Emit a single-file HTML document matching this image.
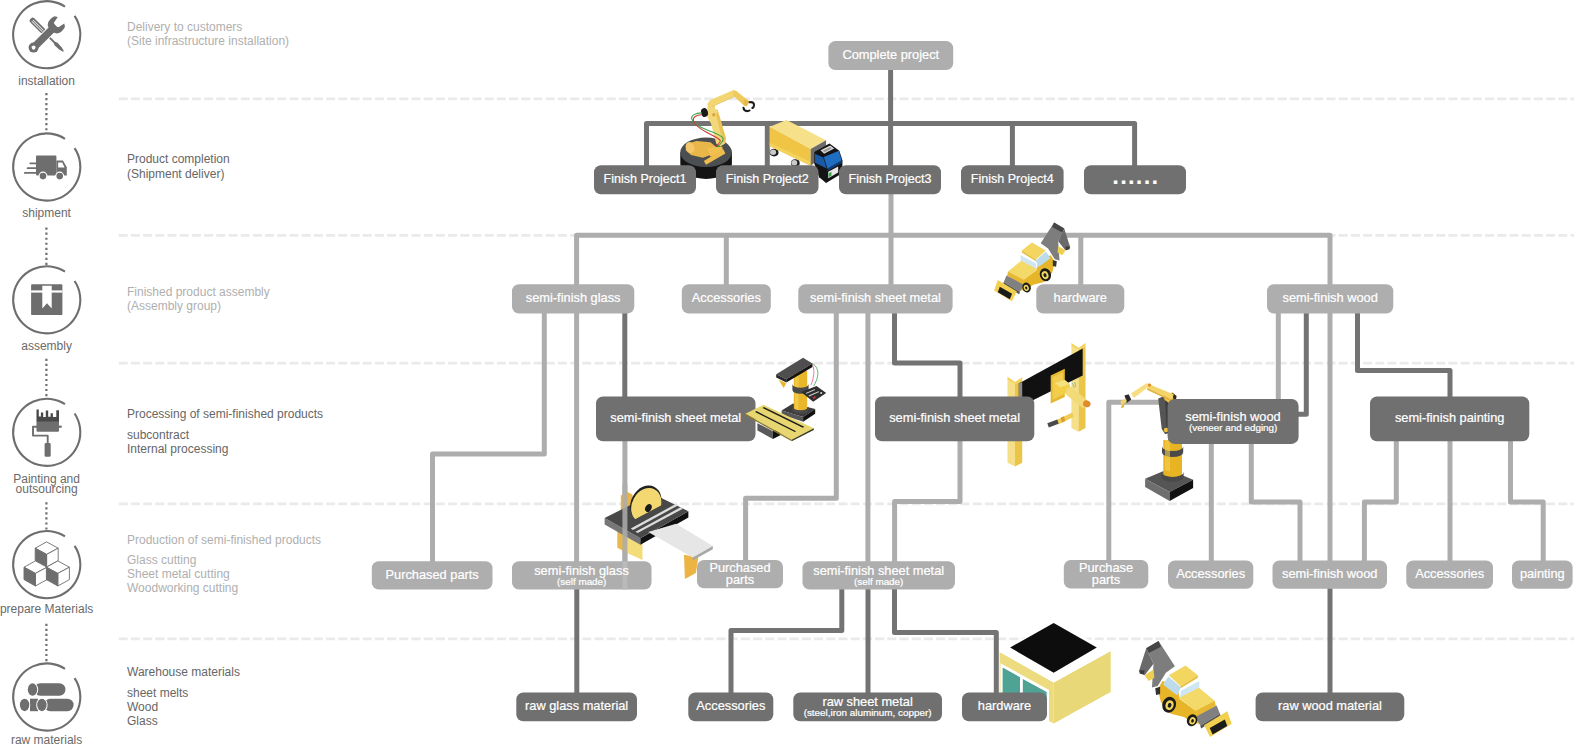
<!DOCTYPE html>
<html lang="en"><head><meta charset="utf-8"><title>Production flow</title>
<style>html,body{margin:0;padding:0;background:#fff}body{width:1574px;height:745px;overflow:hidden;position:relative}svg{display:block;position:absolute;left:0;top:0}text{font-family:"Liberation Sans", Arial, sans-serif}.w{fill:#fff;stroke:#fff;stroke-width:.22px}.m{font-size:12.8px}.s{font-size:9.9px}.lab{font-size:12px;fill:#6a6a6a}.tl{font-size:12px;fill:#afafaf}.td{font-size:12px;fill:#666}</style></head><body>
<svg width="1574" height="745" viewBox="0 0 1574 745">
<g stroke="#eaeaea" stroke-width="2.8" stroke-dasharray="9 3.2">
<line x1="118.7" y1="98.8" x2="1574" y2="98.8"/>
<line x1="118.7" y1="235.3" x2="1574" y2="235.3"/>
<line x1="118.7" y1="363.2" x2="1574" y2="363.2"/>
<line x1="118.7" y1="503.8" x2="1574" y2="503.8"/>
<line x1="118.7" y1="638.8" x2="1574" y2="638.8"/>
</g>
<path d="M74.56 15.91 A33.6 33.6 0 1 1 65.00 6.52" fill="none" stroke="#6e6e6e" stroke-width="2.1"/>
<path d="M74.56 148.21 A33.6 33.6 0 1 1 65.00 138.82" fill="none" stroke="#6e6e6e" stroke-width="2.1"/>
<path d="M74.56 281.01 A33.6 33.6 0 1 1 65.00 271.62" fill="none" stroke="#6e6e6e" stroke-width="2.1"/>
<path d="M74.56 413.51 A33.6 33.6 0 1 1 65.00 404.12" fill="none" stroke="#6e6e6e" stroke-width="2.1"/>
<path d="M74.56 545.81 A33.6 33.6 0 1 1 65.00 536.42" fill="none" stroke="#6e6e6e" stroke-width="2.1"/>
<path d="M74.56 678.21 A33.6 33.6 0 1 1 65.00 668.82" fill="none" stroke="#6e6e6e" stroke-width="2.1"/>
<g stroke="#6e6e6e" stroke-width="2.2" stroke-dasharray="2.2 2.82">
<line x1="46.4" y1="93.0" x2="46.4" y2="130.34"/>
<line x1="46.4" y1="227.6" x2="46.4" y2="264.94"/>
<line x1="46.4" y1="358.8" x2="46.4" y2="396.14"/>
<line x1="46.4" y1="502.3" x2="46.4" y2="529.6"/>
<line x1="46.4" y1="623.8" x2="46.4" y2="661.14"/>
</g>
<g id="icons" fill="#6e6e6e">
<!-- installation: wrench + screwdriver -->
<g transform="translate(46.6 34.6) rotate(45)">
  <!-- screwdriver along x axis (upper-left to lower-right) -->
  <rect x="-22.5" y="-2.9" width="19" height="5.8" rx="2.2"/>
  <rect x="-20" y="-1.1" width="15" height="0.8" fill="#fff"/>
  <rect x="-20" y="0.6" width="15" height="0.8" fill="#fff"/>
  <rect x="-4" y="-0.9" width="18" height="1.8"/>
  <path d="M11 -0.9 L13.5 -1.9 L19.5 -1.7 L23.8 -0.6 L23.8 0.6 L19.5 1.7 L13.5 1.9 L11 0.9Z"/>
</g>
<g transform="translate(46.6 34.6) rotate(-45)">
  <!-- wrench along x axis (lower-left to upper-right) -->
  <rect x="-22" y="-4.6" width="36" height="9.2" rx="4.6" fill="#fff"/>
  <rect x="-21" y="-3.7" width="34" height="7.4" rx="3.7"/>
  <circle cx="-18.4" cy="0" r="5"/>
  <circle cx="-18.4" cy="0" r="1.9" fill="#fff"/>
  <path d="M6.5 -3.7 C7.5 -8 13 -9.3 18.6 -7.4 L20.4 -4.6 L13.6 -3.3 L11.8 0 L13.6 3.3 L20.4 4.6 L18.6 7.4 C13 9.3 7.5 8 6.5 3.7Z"/>
</g>
<!-- shipment: truck -->
<g>
  <rect x="36" y="155.6" width="20.4" height="19.8" rx="0.8"/>
  <path d="M56.4 160.6 L63 160.6 L66.8 167.2 L66.8 175.4 L56.4 175.4Z"/>
  <path d="M58.1 162.5 L62.2 162.5 L64.6 167.6 L58.1 167.6Z" fill="#fff"/>
  <circle cx="43" cy="176.1" r="4.5" fill="#fff"/><circle cx="43" cy="176.1" r="3.3"/>
  <circle cx="59.7" cy="176.1" r="4.5" fill="#fff"/><circle cx="59.7" cy="176.1" r="3.3"/>
  <g stroke="#6e6e6e" stroke-width="1.7" stroke-linecap="round">
   <line x1="30.3" y1="163.3" x2="36" y2="163.3"/><line x1="27.6" y1="168.2" x2="36" y2="168.2"/><line x1="24.8" y1="172.9" x2="37" y2="172.9"/>
  </g>
</g>
<!-- assembly: box with ribbon -->
<g>
  <rect x="31.1" y="284.2" width="31.3" height="30.9" rx="1.2"/>
  <rect x="31.1" y="290.4" width="31.3" height="2.2" fill="#fff"/>
  <path d="M42.3 285.7 L51.7 285.7 L51.7 308.4 L47 303.2 L42.3 308.4Z" fill="#fff"/>
</g>
<!-- painting: roller -->
<g>
  <path d="M36.5 422 L36.5 409.4 L38.8 409.4 L38.8 416.6 L40.9 416.6 L40.9 412.6 L43.2 412.6 L43.2 417 L45.8 417 L45.8 410.4 L48.2 410.4 L48.2 416.8 L50.6 416.8 L50.6 413.2 L52.9 413.2 L52.9 417 L56.3 417 L56.3 410.2 L59 410.2 L59 422Z" fill="#484848"/>
  <rect x="36.5" y="421.5" width="22.5" height="10.2" rx="1"/>
  <rect x="58.5" y="425.6" width="3.2" height="2.2"/>
  <path d="M37 426.8 L33 426.8 L33 435.6 L47.7 435.6 L47.7 444" fill="none" stroke="#6e6e6e" stroke-width="1.9" stroke-linejoin="round"/>
  <rect x="44.6" y="443" width="6.1" height="13.8" rx="1.4"/>
</g>
<!-- prepare materials: cubes -->
<g stroke="#6e6e6e" stroke-width="0.9" stroke-linejoin="round">
  <g id="cube">
   <path d="M46.6 541.9 L58.2 548.2 L46.6 554.4 L35.2 548.2Z" fill="#fff"/>
   <path d="M58.2 548.2 L58.2 560.6 L46.6 567 L46.6 554.4Z" fill="#fff"/>
   <path d="M35.2 548.2 L46.6 554.4 L46.6 567 L35.2 560.6Z" fill="#6e6e6e"/>
  </g>
  <use href="#cube" x="-11.2" y="19"/>
  <use href="#cube" x="11.2" y="19"/>
</g>
<!-- raw materials: pipes -->
<g>
  <path d="M30 698.7 L30 711.2 L38 711.2 L38 698.7Z"/>
  <rect x="34" y="683.3" width="31.5" height="12.5" rx="6.2"/>
  <ellipse cx="32.5" cy="689.55" rx="5.7" ry="7.2" fill="#fff"/><ellipse cx="32.5" cy="689.55" rx="4.7" ry="6.2"/>
  <rect x="44" y="698.7" width="29.6" height="12.5" rx="6.2"/>
  <ellipse cx="24.6" cy="704.95" rx="5.7" ry="7.2" fill="#fff"/><ellipse cx="24.6" cy="704.95" rx="4.7" ry="6.2"/>
  <ellipse cx="41.9" cy="704.95" rx="5.7" ry="7.2" fill="#fff"/><ellipse cx="41.9" cy="704.95" rx="4.7" ry="6.2"/>
</g>
</g>

<text class="lab" x="46.6" y="85" text-anchor="middle">installation</text>
<text class="lab" x="46.6" y="216.8" text-anchor="middle">shipment</text>
<text class="lab" x="46.6" y="349.8" text-anchor="middle">assembly</text>
<text class="lab" x="46.6" y="482.7" text-anchor="middle">Painting and</text>
<text class="lab" x="46.6" y="492.7" text-anchor="middle">outsourcing</text>
<text class="lab" x="46.6" y="612.5" text-anchor="middle">prepare Materials</text>
<text class="lab" x="46.6" y="743.8" text-anchor="middle">raw materials</text>
<text class="tl" x="127" y="31">Delivery to customers</text>
<text class="tl" x="127" y="45">(Site infrastructure installation)</text>
<text class="td" x="127" y="162.7">Product completion</text>
<text class="td" x="127" y="177.5">(Shipment deliver)</text>
<text class="tl" x="127" y="296">Finished product assembly</text>
<text class="tl" x="127" y="309.8">(Assembly group)</text>
<text class="td" x="127" y="418.2">Processing of semi-finished products</text>
<text class="td" x="127" y="439">subcontract</text>
<text class="td" x="127" y="453">Internal processing</text>
<text class="tl" x="127" y="544">Production of semi-finished products</text>
<text class="tl" x="127" y="563.6">Glass cutting</text>
<text class="tl" x="127" y="577.8">Sheet metal cutting</text>
<text class="tl" x="127" y="592.2">Woodworking cutting</text>
<text class="td" x="127" y="675.8">Warehouse materials</text>
<text class="td" x="127" y="697">sheet melts</text>
<text class="td" x="127" y="710.8">Wood</text>
<text class="td" x="127" y="724.5">Glass</text>
<g>
<polyline points="890.6,69 890.6,123.5" fill="none" stroke="#737373" stroke-width="5" stroke-linejoin="round"/>
<polyline points="646.5,166 646.5,123.5 1134.6,123.5 1134.6,166" fill="none" stroke="#737373" stroke-width="5" stroke-linejoin="round"/>
<polyline points="767.3,123.5 767.3,166" fill="none" stroke="#737373" stroke-width="5" stroke-linejoin="round"/>
<polyline points="890.6,123.5 890.6,166" fill="none" stroke="#737373" stroke-width="5" stroke-linejoin="round"/>
<polyline points="1012.4,123.5 1012.4,166" fill="none" stroke="#737373" stroke-width="5" stroke-linejoin="round"/>
<polyline points="891,193 891,285" fill="none" stroke="#adadad" stroke-width="5" stroke-linejoin="round"/>
<polyline points="576.6,285 576.6,235.3 1330,235.3 1330,285" fill="none" stroke="#adadad" stroke-width="5" stroke-linejoin="round"/>
<polyline points="726.3,235.3 726.3,285" fill="none" stroke="#adadad" stroke-width="5" stroke-linejoin="round"/>
<polyline points="1080.8,235.3 1080.8,285" fill="none" stroke="#adadad" stroke-width="5" stroke-linejoin="round"/>
<polyline points="544.3,313 544.3,454 432.5,454 432.5,562" fill="none" stroke="#adadad" stroke-width="5" stroke-linejoin="round"/>
<polyline points="576.6,313 576.6,562" fill="none" stroke="#adadad" stroke-width="5" stroke-linejoin="round"/>
<polyline points="624.8,313 624.8,398" fill="none" stroke="#737373" stroke-width="5" stroke-linejoin="round"/>
<polyline points="624.9,440 624.9,562" fill="none" stroke="#adadad" stroke-width="5" stroke-linejoin="round"/>
<polyline points="836.3,313 836.3,498.3 745.6,498.3 745.6,561" fill="none" stroke="#adadad" stroke-width="5" stroke-linejoin="round"/>
<polyline points="867.9,313 867.9,562" fill="none" stroke="#adadad" stroke-width="5" stroke-linejoin="round"/>
<polyline points="894.5,313 894.5,363 960,363 960,398" fill="none" stroke="#737373" stroke-width="5" stroke-linejoin="round"/>
<polyline points="960,440 960,501.6 894.6,501.6 894.6,562" fill="none" stroke="#adadad" stroke-width="5" stroke-linejoin="round"/>
<polyline points="1278.3,313 1278.3,400" fill="none" stroke="#adadad" stroke-width="5" stroke-linejoin="round"/>
<polyline points="1306.3,313 1306.3,414.2 1297,414.2" fill="none" stroke="#737373" stroke-width="5" stroke-linejoin="round"/>
<polyline points="1330,313 1330,562" fill="none" stroke="#adadad" stroke-width="5" stroke-linejoin="round"/>
<polyline points="1357.5,313 1357.5,370.6 1450,370.6 1450,398" fill="none" stroke="#737373" stroke-width="5" stroke-linejoin="round"/>
<polyline points="1169,402.2 1108.8,402.2 1108.8,561" fill="none" stroke="#adadad" stroke-width="5" stroke-linejoin="round"/>
<polyline points="1211.3,443 1211.3,562" fill="none" stroke="#adadad" stroke-width="5" stroke-linejoin="round"/>
<polyline points="1251.3,443 1251.3,502 1300,502 1300,562" fill="none" stroke="#adadad" stroke-width="5" stroke-linejoin="round"/>
<polyline points="1396.3,440 1396.3,502 1364.4,502 1364.4,562" fill="none" stroke="#adadad" stroke-width="5" stroke-linejoin="round"/>
<polyline points="1450,440 1450,562" fill="none" stroke="#adadad" stroke-width="5" stroke-linejoin="round"/>
<polyline points="1510.5,440 1510.5,502 1543.2,502 1543.2,562" fill="none" stroke="#adadad" stroke-width="5" stroke-linejoin="round"/>
<polyline points="576.8,588 576.8,694" fill="none" stroke="#737373" stroke-width="5" stroke-linejoin="round"/>
<polyline points="841.8,588 841.8,630.6 731,630.6 731,694" fill="none" stroke="#737373" stroke-width="5" stroke-linejoin="round"/>
<polyline points="868,588 868,694" fill="none" stroke="#737373" stroke-width="5" stroke-linejoin="round"/>
<polyline points="894.5,588 894.5,632.6 996.3,632.6 996.3,694" fill="none" stroke="#737373" stroke-width="5" stroke-linejoin="round"/>
<polyline points="1330,588 1330,694" fill="none" stroke="#737373" stroke-width="5" stroke-linejoin="round"/>
</g>
<g id="robot1">
<path d="M680.3 152.5 L680.3 164 A25.8 15 0 0 0 731.9 164 L731.9 152.5Z" fill="#141414"/>
<ellipse cx="706.1" cy="152.3" rx="25.8" ry="14.8" fill="#4b4f52"/>
<polygon points="686.8,143.8 696.5,141.1 710.4,142.2 717.4,148.1 714.7,153.5 702.9,157.8 691.1,155.1 685.7,150.2" fill="#e9b64a"/>
<ellipse cx="690.0" cy="147.6" rx="4.3" ry="5.6" fill="#f2c868" transform="rotate(-20 690.0 147.6)"/>
<polygon points="707.2,148.1 722.2,146.5 723.3,152.4 710.4,156.7" fill="#f0c050"/>
<polygon points="703.8,161.0 723.3,149.2 725.4,153.5 706.1,164.7" fill="#eebc4c"/>
<polygon points="707.2,111.1 711.5,107.9 717.4,109.5 719.0,114.8 726.0,138.4 724.9,143.8 720.1,146.5 716.3,143.8 711.0,123.4 707.2,117.0" fill="#f3d87a"/>
<polygon points="717.4,109.5 719.0,114.8 726.0,138.4 724.9,143.8 722.8,141.7 716.3,115.9" fill="#e8c458"/>
<circle cx="713.8" cy="114.8" r="1.7" fill="#d9a640"/>
<circle cx="711.3" cy="108.2" r="3.9" fill="#f3d87a"/>
<ellipse cx="704.5" cy="112.5" rx="3.4" ry="4.5" fill="#1a1a1a" transform="rotate(-15 704.5 112.5)"/>
<polygon points="707.2,104.1 710.4,100.0 733.5,90.1 736.7,92.8 735.1,95.7 712.6,106.0 708.8,107.9" fill="#f3d670"/>
<polygon points="712.6,106.0 735.1,95.7 734.7,96.8 712.0,107.1" fill="#dfb84a"/>
<polygon points="733.5,90.1 736.7,91.2 749.3,101.4 746.7,106.2 743.7,105.2 733.0,95.5" fill="#efca5c"/>
<polygon points="743.7,100.7 745.3,99.3 749.3,101.4 746.7,106.2 743.7,105.2" fill="#e6b94a"/>
<path d="M749.6 102.2 q4.6 -0.6 4.4 3.2 q-0.2 2 -1.6 2.6" fill="none" stroke="#1a1a1a" stroke-width="2.1" stroke-linecap="round"/>
<path d="M743.5 107.9 q0.4 3.2 3.6 3.2 q1.6 0 2.4 -0.6" fill="none" stroke="#1a1a1a" stroke-width="2.1" stroke-linecap="round"/>
<path d="M701.8 112.9 C687.9 113.2 686.8 122.3 707.2 129.9 S725.4 138.4 717.9 146.8" fill="none" stroke="#3aa84a" stroke-width="1.1"/>
<path d="M701.8 114.8 C690.0 115.4 689.5 122.9 706.1 132.0 S722.8 139.5 716.3 146.0" fill="none" stroke="#d2323c" stroke-width="1.1"/>
</g>
<g id="truck">
<ellipse cx="774.1" cy="152.6" rx="4.4" ry="3.8" fill="#1c1c1c"/><ellipse cx="773.1" cy="152.3" rx="3" ry="2.7" fill="#c9c9c9"/>
<ellipse cx="795.3" cy="163.1" rx="4.4" ry="3.8" fill="#1c1c1c"/><ellipse cx="794.3" cy="162.8" rx="3" ry="2.7" fill="#c9c9c9"/>
<polygon points="769.8,126.8 786.5,120.1 826.1,140.3 810.7,149.0" fill="#f6e08a"/>
<polygon points="769.8,126.8 810.7,149.0 810.7,165.8 769.8,146.3" fill="#f0c445"/>
<polygon points="769.8,142.7 810.7,162.1 810.7,165.8 769.8,146.3" fill="#f4d25e"/>
<polygon points="810.7,149.0 826.1,140.3 826.1,145.6 814.1,151.7 814.1,163.1 810.7,165.8" fill="#6b6b6b"/>
<polygon points="814.1,151.7 829.5,143.6 839.3,150.7 842.5,160.4 842.2,173.2 826.1,183.0 819.2,177.2 814.1,163.1" fill="#141414"/>
<polygon points="820.5,150.3 830.2,145.6 834.2,148.6 824.1,153.7" fill="#d8d8d8"/>
<polygon points="822.8,150.7 829.9,147.2 831.8,148.6 824.5,152.3" fill="#9a9a9a"/>
<polygon points="823.7,157.0 838.9,150.7 841.7,160.4 827.5,168.7" fill="#1f6ec2"/>
<polygon points="815.0,153.7 823.2,157.4 826.7,168.5 815.1,162.8" fill="#1a5aa6"/>
<polygon points="827.5,168.7 841.7,160.4 841.7,163.1 827.5,171.1" fill="#0e3e7a"/>
<polygon points="828.2,171.8 838.2,166.4 838.2,172.5 828.2,178.3" fill="#e8e8e8"/>
<polygon points="828.6,173.2 831.5,171.8 831.5,175.8 828.6,177.2" fill="#3aa84a"/>
</g>
<g id="loader">
<polygon points="1040.7,243.2 1054.1,222.4 1064.2,228.4 1058.2,241.2 1059.5,260.6 1054.8,259.3 1048.1,248.6" fill="#7d7d7d"/>
<polygon points="1054.1,222.4 1064.2,228.4 1062.2,232.4 1052.1,227.1" fill="#454545"/>
<polygon points="1064.2,228.4 1070.2,247.2 1065.5,250.6 1058.2,241.2" fill="#6a6a6a"/>
<polygon points="1058.2,245.9 1065.5,250.6 1062.2,255.3 1057.5,252.6" fill="#f0cf50"/>
<polygon points="1065.5,246.5 1069.8,246.5 1069.6,249.2 1066.2,250.2" fill="#3c3c3c"/>
<polygon points="1023.9,279.4 1036.7,270.0 1038.7,259.3 1050.8,255.3 1054.8,262.0 1052.1,272.7 1044.1,282.1 1033.3,284.8 1025.3,290.2 1019.9,290.2" fill="#e7b528"/>
<polygon points="1008.1,271.4 1021.5,260.4 1037.6,268.7 1023.9,279.7" fill="#f3d968"/>
<polygon points="1008.1,271.4 1023.9,279.7 1024.2,285.5 1007.1,275.7" fill="#e7b830"/>
<polygon points="1020.7,255.3 1035.7,263.3 1036.5,268.7 1020.7,260.6" fill="#cfe6f2"/>
<polygon points="1035.7,260.4 1046.1,251.5 1050.4,258.2 1038.7,267.1" fill="#bcdcec"/>
<polygon points="1021.9,250.6 1032.0,242.5 1045.7,250.6 1036.0,259.6" fill="#f2d660"/>
<polygon points="1021.9,250.6 1036.0,259.6 1036.0,261.3 1021.9,252.6" fill="#e6bd3c"/>
<polygon points="1006.5,275.4 1023.9,284.8 1019.9,291.8 1003.8,282.1" fill="#808080"/>
<polygon points="1003.8,282.1 1019.9,291.8 1019.2,294.2 1003.1,284.1" fill="#555"/>
<polygon points="994.1,290.4 997.8,280.1 1016.8,291.5 1011.8,301.2" fill="#f2cf4d"/>
<polygon points="997.8,292.2 999.8,286.8 1012.1,293.8 1009.8,299.2" fill="#1c1c1c"/>
<ellipse cx="1045.4" cy="274.7" rx="5.6" ry="6.6" fill="#1c1c1c" transform="rotate(-20 1045.4 274.7)"/><ellipse cx="1045.0" cy="274.9" rx="3.3" ry="4.1" fill="#f2d860" transform="rotate(-20 1045.4 274.7)"/><ellipse cx="1044.9" cy="275.0" rx="1.5" ry="2.0" fill="#1c1c1c" transform="rotate(-20 1045.4 274.7)"/>
<ellipse cx="1026.6" cy="287.5" rx="4.2" ry="5.0" fill="#1c1c1c" transform="rotate(-20 1026.6 287.5)"/><ellipse cx="1026.2" cy="287.7" rx="2.5" ry="3.1" fill="#f2d860" transform="rotate(-20 1026.6 287.5)"/><ellipse cx="1026.1" cy="287.8" rx="1.1" ry="1.5" fill="#1c1c1c" transform="rotate(-20 1026.6 287.5)"/>
<polygon points="1052.8,260.0 1056.8,261.3 1056.1,266.7 1052.8,266.0" fill="#333"/>
</g>
<use href="#loader" transform="translate(1138.9 640.9) scale(-1.22 1.22) translate(-1070.2 -222.4)"/>
<g id="saw">
<polygon points="620.8,495.4 627.3,492.0 632.5,494.6 632.5,518.1 620.8,512.9" fill="#e9b548"/>
<polygon points="617.3,530.3 627.3,535.6 627.3,553.0 617.3,547.8" fill="#e9b84a"/>
<polygon points="627.3,535.6 642.5,543.4 642.5,560.0 627.3,553.0" fill="#f3dc7a"/>
<polygon points="684.0,554.8 698.3,557.4 695.9,573.1 684.9,578.9" fill="#ebb443"/>
<polygon points="670.0,521.6 677.0,518.1 677.0,528.6 670.0,528.6" fill="#e9b84a"/>
<polygon points="604.6,518.1 640.4,538.2 640.4,544.7 604.6,524.4" fill="#777"/>
<polygon points="640.4,538.2 688.4,511.2 688.4,517.4 640.4,544.7" fill="#111"/>
<polygon points="604.6,518.1 652.6,493.7 688.4,511.2 640.4,538.2" fill="#484848"/>
<polygon points="630.8,528.6 676.1,503.8 678.4,505.2 633.0,530.0" fill="#dcdcdc"/>
<polygon points="635.5,531.7 680.5,507.3 682.8,508.7 637.7,533.1" fill="#dcdcdc"/>
<clipPath id="bladeclip"><polygon points="615.9,474.5 685.7,474.5 685.7,492.0 663.4,504.2 629.5,522.3 615.9,530.3"/></clipPath>
<g clip-path="url(#bladeclip)">
<ellipse cx="645.3" cy="503.6" rx="14.8" ry="18.6" fill="#222" transform="rotate(28 646.0 504.5)"/>
<ellipse cx="646.6" cy="505.1" rx="14.2" ry="18" fill="#f3d872" transform="rotate(28 646.0 504.5)"/>
<ellipse cx="648.4" cy="508.0" rx="3" ry="4.2" fill="#1a1a1a" transform="rotate(28 648.4 508.0)"/>
</g>
<polygon points="648.2,532.1 676.1,523.7 712.8,546.1 692.7,557.4" fill="#e6e6e6"/>
<polygon points="692.7,557.4 712.8,546.1 712.8,549.2 692.7,560.4" fill="#a8a8a8"/>
</g>
<line x1="624.9" y1="484" x2="624.9" y2="562" stroke="#adadad" stroke-width="5" opacity="0.85"/>
<g id="press">
<polygon points="1007.5,380.1 1015.0,384.2 1015.0,466.5 1007.5,462.7" fill="#f5df88"/>
<polygon points="1015.0,384.2 1022.2,379.7 1022.2,462.7 1015.0,466.5" fill="#eac548"/>
<polygon points="1007.5,380.1 1007.5,376.7 1015.0,382.0 1022.2,377.3 1022.2,379.7 1015.0,384.2" fill="#f3d25a"/>
<polygon points="1071.4,346.3 1078.5,349.7 1078.5,431.7 1071.4,428.0" fill="#f5df88"/>
<polygon points="1078.5,349.7 1085.5,345.9 1085.5,428.0 1078.5,431.7" fill="#eac548"/>
<polygon points="1071.4,346.3 1071.4,342.9 1078.5,347.8 1085.5,342.9 1085.5,345.9 1078.5,349.7" fill="#f3d25a"/>
<polygon points="1018.8,383.5 1082.7,348.5 1082.7,375.4 1018.8,407.3" fill="#111"/>
<polygon points="1018.8,383.5 1022.2,382.0 1022.2,405.6 1018.8,407.3" fill="#8a8a8a"/>
<polygon points="1050.7,375.4 1064.8,368.8 1064.8,397.0 1050.7,403.6" fill="#e7b92f"/>
<polygon points="1052.6,377.3 1062.9,372.2 1062.9,394.7 1052.6,399.8" fill="#f0cc50"/>
<polygon points="1054.9,382.9 1064.8,380.1 1069.9,384.2 1069.9,392.3 1060.1,395.1 1054.9,391.4" fill="#f2cf45"/>
<polygon points="1054.9,382.9 1064.8,380.1 1069.9,384.2 1060.1,387.2" fill="#f7e080"/>
<polygon points="1066.1,389.1 1070.6,386.5 1087.9,400.8 1087.2,406.4 1082.7,407.9 1066.1,394.7" fill="#f3da78"/>
<ellipse cx="1086.8" cy="403.8" rx="3.8" ry="3.3" fill="#e08a2a" transform="rotate(20 1086.8 403.8)"/>
<polygon points="1056.4,419.9 1072.3,412.4 1073.6,416.9 1058.2,424.4" fill="#f0cc55"/>
<polygon points="1047.3,423.3 1057.3,419.5 1058.6,423.7 1048.8,427.4" fill="#4a4a4a"/>
<polygon points="1060.5,417.7 1063.9,416.2 1065.4,421.0 1062.0,422.5" fill="#d9a030"/>
<path d="M1072.3 382.9 l2 5 M1074.8 382.0 l1 5" stroke="#5a9" stroke-width="0.6" fill="none"/>
</g>
<g id="robot2">
<polygon points="1145.1,478.8 1167.8,469.2 1193.1,479.7 1169.6,491.9" fill="#555"/>
<polygon points="1145.1,478.8 1169.6,491.9 1169.6,501.0 1145.1,487.0" fill="#6e6e6e"/>
<polygon points="1169.6,491.9 1193.1,479.7 1193.1,488.1 1169.6,501.0" fill="#111"/>
<path d="M1163.3 440 L1163.3 474.5 A9.4 4.2 0 0 0 1182 474.5 L1182 440Z" fill="#e9b424"/>
<path d="M1161.6 472 L1161.6 477 A11 5 0 0 0 1183.6 477 L1183.6 472 A11 5 0 0 1 1161.6 472Z" fill="#4a4a4a"/>
<path d="M1162 446.5 L1162 452.5 A10.6 4.6 0 0 0 1183.2 452.5 L1183.2 446.5 A10.6 4.6 0 0 1 1162 446.5Z" fill="#4a4a4a"/>
<path d="M1165 440 L1165 470 L1170 471.5 L1170 440Z" fill="#f3cf55" opacity=".6"/>
<polygon points="1158.2,398.6 1164.3,395.9 1169.9,399.4 1169.9,432.6 1165.2,434.3 1161.7,429.1" fill="#555"/>
<polygon points="1165.2,401.2 1169.9,399.4 1169.9,432.6 1166.9,433.5" fill="#3e3e3e"/>
<circle cx="1166.1" cy="430.0" r="2.3" fill="#f0c23a"/>
<polygon points="1164.3,395.1 1172.2,392.4 1176.5,395.9 1175.7,401.2 1168.7,402.9 1164.3,399.4" fill="#efc040"/>
<polygon points="1172.2,392.4 1176.5,395.9 1175.7,401.2 1173.9,401.2" fill="#2a2a2a"/>
<polygon points="1148.6,382.9 1152.1,385.5 1173.9,394.5 1171.3,399.4 1147.7,388.1" fill="#f3d468"/>
<polygon points="1147.7,388.1 1171.3,399.4 1170.4,400.8 1146.9,389.7" fill="#e2b23a"/>
<polygon points="1131.2,393.3 1146.9,382.9 1150.0,385.8 1133.8,398.0" fill="#f5dd80"/>
<circle cx="1149.5" cy="385.1" r="1.6" fill="#e08a2a"/>
<polygon points="1124.5,395.6 1128.6,394.2 1131.2,399.4 1126.8,402.9" fill="#2b2b2b"/>
<polygon points="1120.4,401.2 1125.9,398.6 1126.8,401.2 1121.6,405.5" fill="#f3d468"/>
<polygon points="1121.6,405.5 1124.5,403.8 1123.8,407.3 1121.1,408.2" fill="#e2b23a"/>
</g>
<g id="warehouse">
<polygon points="999.6,651.9 1053.7,682.4 1053.7,723.4 999.6,693.8" fill="#eddb80"/>
<polygon points="1053.7,682.4 1110.7,651.0 1110.7,692.0 1053.7,723.4" fill="#e9d878"/>
<polygon points="1000.5,663.2 1049.0,689.9 1049.0,721.7 1000.5,693.8" fill="#fff"/>
<polygon points="1002.6,667.6 1020.0,677.2 1020.0,707.7 1002.6,697.2" fill="#4fa394"/>
<polygon points="1022.8,678.9 1046.7,692.0 1046.7,714.7 1022.8,708.6" fill="#4fa394"/>
<polygon points="999.6,651.9 1053.7,620.8 1110.7,651.0 1053.7,682.4" fill="#fff"/>
<polygon points="1010.1,647.5 1053.7,623.1 1096.8,647.5 1053.7,672.8" fill="#0d0d0d"/>
</g>
<rect x="828.4" y="41.1" width="124.8" height="28.9" rx="7" fill="#aeaeae"/>
<text class="w m" x="890.8" y="58.65" text-anchor="middle">Complete project</text>
<rect x="594" y="165.2" width="102" height="29.1" rx="7" fill="#707070"/>
<text class="w m" x="645" y="183.05" text-anchor="middle" textLength="83" lengthAdjust="spacingAndGlyphs" style="font-size:13.3px">Finish Project1</text>
<rect x="716" y="165.2" width="102.5" height="29.1" rx="7" fill="#707070"/>
<text class="w m" x="767.25" y="183.05" text-anchor="middle" textLength="83" lengthAdjust="spacingAndGlyphs" style="font-size:13.3px">Finish Project2</text>
<rect x="839" y="165.2" width="102" height="29.1" rx="7" fill="#707070"/>
<text class="w m" x="890" y="183.05" text-anchor="middle" textLength="83" lengthAdjust="spacingAndGlyphs" style="font-size:13.3px">Finish Project3</text>
<rect x="961" y="165.2" width="102.6" height="29.1" rx="7" fill="#707070"/>
<text class="w m" x="1012.3" y="183.05" text-anchor="middle" textLength="83" lengthAdjust="spacingAndGlyphs" style="font-size:13.3px">Finish Project4</text>
<rect x="1084" y="165.2" width="102" height="29.1" rx="7" fill="#707070"/>
<text class="w" x="1112.6" y="184.1" font-size="22" font-weight="bold" letter-spacing="1.72">......</text>
<rect x="512" y="284.3" width="122.3" height="29.2" rx="7" fill="#aeaeae"/>
<text class="w m" x="573.15" y="302" text-anchor="middle">semi-finish glass</text>
<rect x="681.8" y="284.3" width="89" height="29.2" rx="7" fill="#aeaeae"/>
<text class="w m" x="726.3" y="302" text-anchor="middle">Accessories</text>
<rect x="798.3" y="284.3" width="154.3" height="29.2" rx="7" fill="#aeaeae"/>
<text class="w m" x="875.45" y="302" text-anchor="middle">semi-finish sheet metal</text>
<rect x="1036.3" y="284.3" width="88" height="29.2" rx="7" fill="#aeaeae"/>
<text class="w m" x="1080.3" y="302" text-anchor="middle">hardware</text>
<rect x="1267" y="284.3" width="126.3" height="29.2" rx="7" fill="#aeaeae"/>
<text class="w m" x="1330.15" y="302" text-anchor="middle">semi-finish wood</text>
<rect x="596" y="396.5" width="159.5" height="44.8" rx="7" fill="#707070"/>
<text class="w m" x="675.75" y="422.3" text-anchor="middle">semi-finish sheet metal</text>
<rect x="875" y="396.5" width="159.3" height="44.8" rx="7" fill="#707070"/>
<text class="w m" x="954.65" y="422.3" text-anchor="middle">semi-finish sheet metal</text>
<rect x="1167.6" y="399" width="131" height="44.9" rx="7" fill="#707070"/>
<text class="w m" x="1233" y="420.7" text-anchor="middle">semi-finish wood</text>
<text class="w s" x="1233.2" y="430.8" text-anchor="middle">(veneer and edging)</text>
<rect x="1370" y="396.5" width="159.3" height="44.8" rx="7" fill="#707070"/>
<text class="w m" x="1449.65" y="422.3" text-anchor="middle">semi-finish painting</text>
<rect x="371.8" y="561.2" width="120.7" height="28.3" rx="7" fill="#aeaeae"/>
<text class="w m" x="432.15" y="578.75" text-anchor="middle">Purchased parts</text>
<rect x="512" y="561.2" width="139.5" height="28.3" rx="7" fill="#aeaeae"/>
<line x1="624.9" y1="561.2" x2="624.9" y2="589.5" stroke="#bababa" stroke-width="4.7"/>
<text class="w m" x="581.5" y="574.6" text-anchor="middle">semi-finish glass</text>
<text class="w s" x="581.7" y="584.9" text-anchor="middle">(self made)</text>
<rect x="697" y="560" width="86" height="28.3" rx="7" fill="#aeaeae"/>
<text class="w m" x="740" y="571.6" text-anchor="middle">Purchased</text>
<text class="w m" x="740" y="583.6" text-anchor="middle">parts</text>
<rect x="802.5" y="561.2" width="152.5" height="28.3" rx="7" fill="#aeaeae"/>
<text class="w m" x="878.7" y="574.6" text-anchor="middle">semi-finish sheet metal</text>
<text class="w s" x="878.7" y="584.9" text-anchor="middle">(self made)</text>
<rect x="1063.8" y="560" width="84.5" height="28.5" rx="7" fill="#aeaeae"/>
<text class="w m" x="1106" y="571.6" text-anchor="middle">Purchase</text>
<text class="w m" x="1106" y="583.6" text-anchor="middle">parts</text>
<rect x="1168" y="560.5" width="85.3" height="28.3" rx="7" fill="#aeaeae"/>
<text class="w m" x="1210.65" y="578.05" text-anchor="middle">Accessories</text>
<rect x="1272.5" y="560.5" width="114.5" height="28.3" rx="7" fill="#aeaeae"/>
<text class="w m" x="1329.75" y="578.05" text-anchor="middle">semi-finish wood</text>
<rect x="1406.3" y="560.5" width="86.7" height="28.3" rx="7" fill="#aeaeae"/>
<text class="w m" x="1449.65" y="578.05" text-anchor="middle">Accessories</text>
<rect x="1512" y="560.5" width="60.6" height="28.3" rx="7" fill="#aeaeae"/>
<text class="w m" x="1542.3" y="578.05" text-anchor="middle">painting</text>
<rect x="516.3" y="692.5" width="120.7" height="28.8" rx="7" fill="#707070"/>
<text class="w m" x="576.65" y="710.3" text-anchor="middle">raw glass material</text>
<rect x="688.3" y="692.5" width="85" height="28.8" rx="7" fill="#707070"/>
<text class="w m" x="730.8" y="710.3" text-anchor="middle">Accessories</text>
<rect x="793.3" y="692.5" width="148.7" height="28.8" rx="7" fill="#707070"/>
<text class="w m" x="867.6" y="705.6" text-anchor="middle">raw sheet metal</text>
<text class="w s" x="867.6" y="716.2" text-anchor="middle">(steel,iron aluminum, copper)</text>
<rect x="962" y="692.5" width="85" height="28.8" rx="7" fill="#707070"/>
<text class="w m" x="1004.5" y="710.3" text-anchor="middle">hardware</text>
<rect x="1255.6" y="692.5" width="148.7" height="28.8" rx="7" fill="#707070"/>
<text class="w m" x="1329.95" y="710.3" text-anchor="middle">raw wood material</text>
<g id="drill">
<polygon points="781.6,410.4 793.0,403.4 815.2,409.1 803.1,417.1" fill="#3c3c3c"/>
<polygon points="781.6,410.4 803.1,417.1 803.1,421.8 781.6,414.4" fill="#555"/>
<polygon points="803.1,417.1 815.2,409.1 815.2,413.8 803.1,421.8" fill="#111"/>
<polygon points="757.4,423.2 772.9,431.2 772.9,438.9 757.4,430.5" fill="#5a5a5a"/>
<polygon points="772.9,431.2 780.3,427.9 780.3,435.2 772.9,438.9" fill="#111"/>
<path d="M793.8 371 L793.8 408 A6.7 3 0 0 0 807.2 408 L807.2 371Z" fill="#e9b72a"/>
<path d="M795 371 L795 409 L798.5 410 L798.5 371Z" fill="#f3cf55" opacity=".7"/>
<path d="M792.2 406.5 L792.2 410 A8.3 3.8 0 0 0 808.8 410 L808.8 406.5 A8.3 3.8 0 0 1 792.2 406.5Z" fill="#4a4a4a"/>
<path d="M792.4 384 L792.4 390 A8.1 3.8 0 0 0 808.6 390 L808.6 384 A8.1 3.8 0 0 1 792.4 384Z" fill="#4a4a4a"/>
<polygon points="745.4,413.8 763.5,404.8 813.8,428.3 791.7,439.7" fill="#e8d670"/>
<polygon points="745.4,413.8 791.7,439.7 791.7,441.3 745.4,415.4" fill="#8a7a30"/>
<polygon points="791.7,439.7 813.8,428.3 813.8,429.9 791.7,441.3" fill="#3a3a20"/>
<polygon points="763.9,407.0 804.2,426.8 802.8,427.7 762.6,408.0" fill="#1c1c1c"/>
<polygon points="756.4,411.1 796.1,431.2 794.8,432.1 755.0,412.0" fill="#1c1c1c"/>
<polygon points="801.1,391.9 816.5,386.0 826.2,393.0 813.2,401.7" fill="#2e2e2e"/>
<polygon points="805.8,393.0 814.5,389.2 815.2,390.0 806.4,393.8" fill="#cfcfcf"/>
<polygon points="808.5,395.6 818.5,391.3 819.2,392.1 809.1,396.4" fill="#cfcfcf"/>
<polygon points="812.5,397.2 815.2,396.0 816.0,397.7 813.3,398.9" fill="#d0283c"/>
<circle cx="821.2" cy="393.0" r="1" fill="#ddd"/>
<polygon points="776.2,374.2 803.1,357.8 812.5,363.4 786.3,379.3" fill="#4e4e4e"/>
<polygon points="776.2,374.2 786.3,379.3 786.3,382.5 776.2,377.5" fill="#2a2a2a"/>
<polygon points="786.3,379.3 812.5,363.4 812.5,366.9 786.3,382.5" fill="#141414"/>
<polygon points="778.7,379.8 786.3,383.3 783.6,387.9" fill="#e9b72a"/>
<path d="M812.2 364.5 C815.2 370.1 813.8 378.2 810.9 385.2" fill="none" stroke="#e05a9a" stroke-width="0.8"/>
<path d="M812.5 363.4 C820.5 368.8 818.5 378.2 813.6 386.0" fill="none" stroke="#3aa84a" stroke-width="0.8"/>
</g>
</svg></body></html>
